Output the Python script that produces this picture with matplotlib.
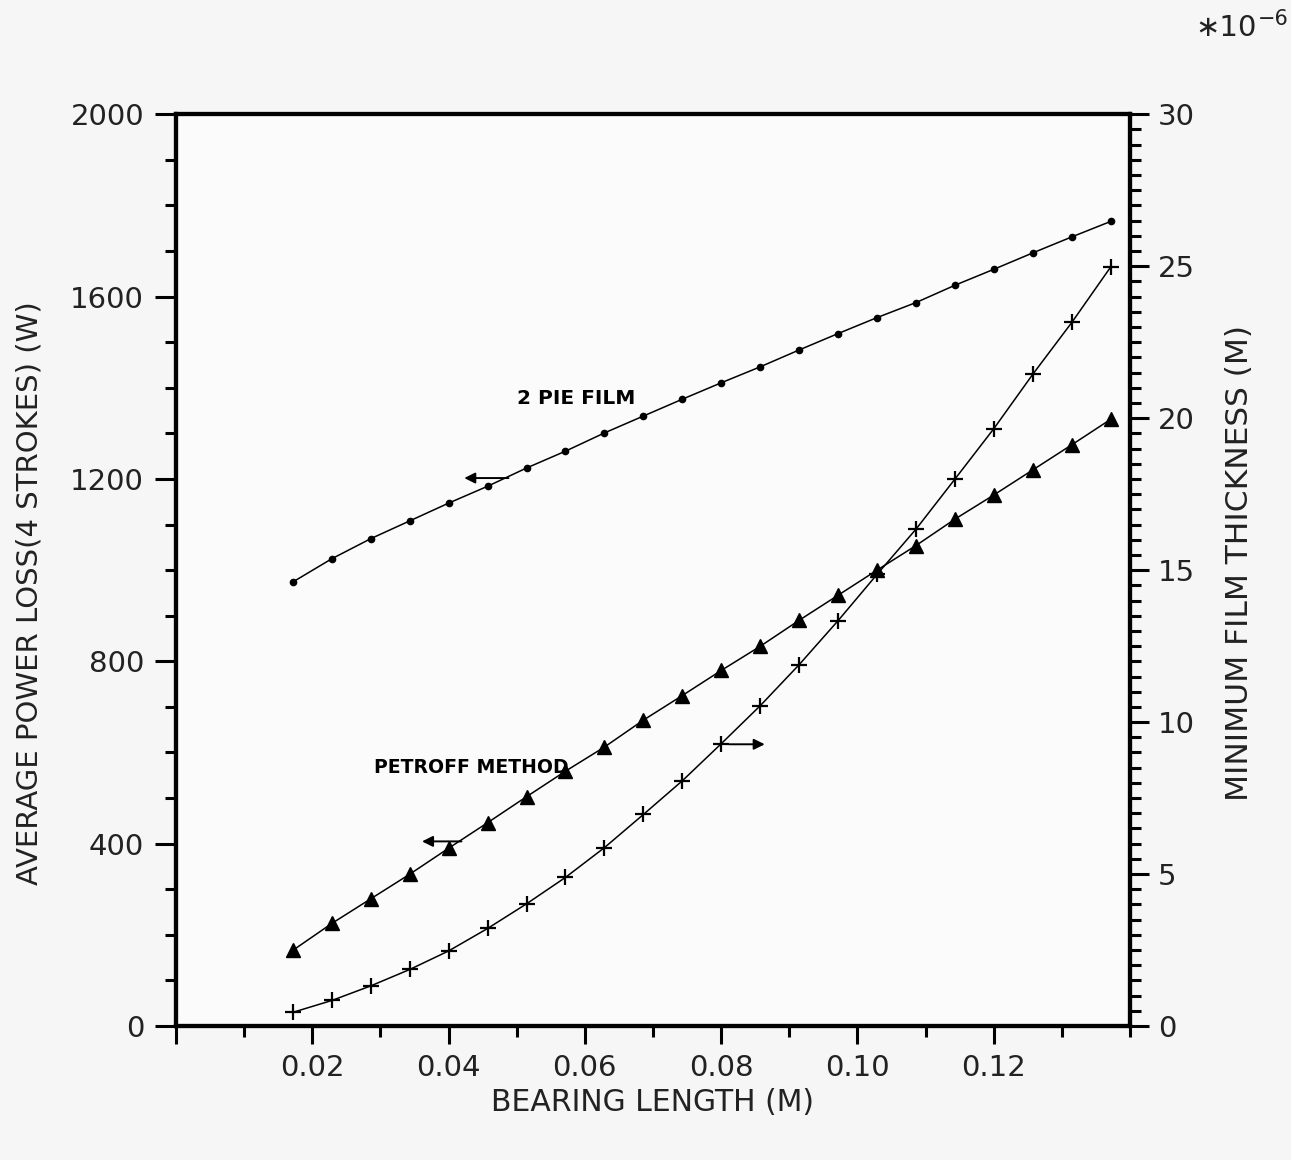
import numpy as np
import matplotlib
matplotlib.use("Agg")
import matplotlib.pyplot as plt
from matplotlib.ticker import MultipleLocator, FixedLocator

# bearing length (m), 22 stations from 17.15 mm to 137.2 mm
bearing_len = [0.01715, 0.02287, 0.02858, 0.03430, 0.04001, 0.04573, 0.05144,
               0.05716, 0.06288, 0.06859, 0.07431, 0.08002, 0.08574, 0.09145,
               0.09717, 0.10288, 0.10860, 0.11432, 0.12003, 0.12575, 0.13146,
               0.13718]
# average power loss, 2 pie film (W)
power_2pie = [974, 1025, 1069, 1108, 1147, 1184, 1224, 1261, 1301, 1338, 1375,
              1411, 1446, 1483, 1519, 1554, 1587, 1625, 1660, 1696, 1731, 1765]
# average power loss, Petroff method (W)
power_petroff = [166, 225, 279, 333, 390, 446, 503, 559, 612, 671, 725, 780,
                 833, 890, 945, 1000, 1054, 1112, 1165, 1220, 1275, 1331]
# minimum film thickness (*1e-6 m)
film_min = [0.45, 0.84, 1.32, 1.86, 2.47, 3.21, 4.02, 4.89, 5.87, 6.96, 8.07,
            9.29, 10.54, 11.89, 13.34, 14.86, 16.35, 18.00, 19.66, 21.45,
            23.15, 24.98]

x_ticks = [0.02, 0.04, 0.06, 0.08, 0.10, 0.12]
x_ticklabels = ["0.02", "0.04", "0.06", "0.08", "0.10", "0.12"]

plt.rcParams['font.family'] = ['DejaVu Sans']

fig = plt.figure(figsize=(12.91, 11.60), dpi=100, facecolor='#f6f6f6')
ax = fig.add_axes([0.1363, 0.1155, 0.739, 0.786])
ax.set_facecolor('#fbfbfb')
ax2 = ax.twinx()

ax.plot(bearing_len, power_2pie, color='k', lw=1.1, marker='o', ms=4.5)
ax.plot(bearing_len, power_petroff, color='k', lw=1.1, marker='^', ms=10)
ax2.plot(bearing_len, film_min, color='k', lw=1.1, marker='+', ms=12, mew=1.6)

ax.set_xlim(0, 0.14)
ax.set_ylim(0, 2000)
ax2.set_ylim(0, 30)

ax.xaxis.set_major_locator(FixedLocator([0] + x_ticks))
ax.set_xticklabels([""] + x_ticklabels)
ax.xaxis.set_minor_locator(MultipleLocator(0.01))
ax.yaxis.set_major_locator(MultipleLocator(400))
ax.yaxis.set_minor_locator(MultipleLocator(100))
ax2.yaxis.set_major_locator(MultipleLocator(5))
ax2.yaxis.set_minor_locator(MultipleLocator(0.5))

for a in (ax, ax2):
    for s in a.spines.values():
        s.set_linewidth(3)
ax.tick_params(axis='both', which='major', direction='out', length=15, width=2.2,
               labelsize=21, colors='k', labelcolor='#222222')
ax.tick_params(axis='both', which='minor', direction='out', length=8, width=2.2)
ax.tick_params(axis='x', which='major', length=13, pad=7)
ax.tick_params(axis='y', which='major', pad=8)
ax2.tick_params(axis='y', which='major', direction='out', length=14, width=2.2,
                labelsize=21, pad=6, labelcolor='#222222')
ax2.tick_params(axis='y', which='minor', direction='out', length=8, width=2.2)

ax.set_xlabel("BEARING LENGTH (M)", fontsize=21.5, color='#222222')
ax.xaxis.set_label_coords(0.5, -0.068)
ax.set_ylabel("AVERAGE POWER LOSS(4 STROKES) (W)", fontsize=21, color='#222222')
ax.yaxis.set_label_coords(-0.1385, 0.475)
ax2.set_ylabel("MINIMUM FILM THICKNESS (M)", fontsize=22.5, color='#222222')
ax2.yaxis.set_label_coords(1.1, 0.508)

fig.text(0.926, 0.976, "\u221710", fontsize=21, color='#222222', va='center')
fig.text(0.974, 0.984, "\u22126", fontsize=15, color='#222222', va='center')

# curve annotations
ax.text(0.0501, 1376, "2 PIE FILM", fontsize=14.5, fontweight='bold',
        va='center', ha='left')
ax.text(0.0290, 566, "PETROFF METHOD", fontsize=13.6, fontweight='bold',
        va='center', ha='left')
arrow = dict(arrowstyle='-|>', color='k', lw=1.4, mutation_scale=16)
ax.annotate('', xy=(0.0419, 1202), xytext=(0.0492, 1202), arrowprops=arrow)
ax.annotate('', xy=(0.0357, 405), xytext=(0.0423, 405), arrowprops=arrow)
ax.annotate('', xy=(0.0868, 618), xytext=(0.0808, 618), arrowprops=arrow)

fig.savefig("out.png", dpi=100, facecolor=fig.get_facecolor())
